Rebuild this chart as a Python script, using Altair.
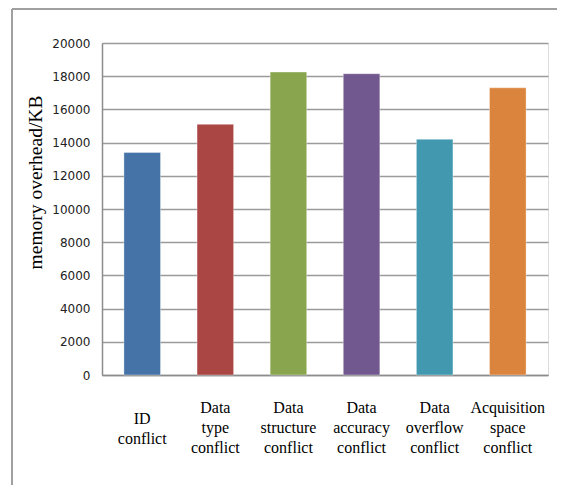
import altair as alt
import pandas as pd

categories = ["ID conflict", "Data type conflict", "Data structure conflict",
              "Data accuracy conflict", "Data overflow conflict", "Acquisition space conflict"]
values = [13400, 15100, 18250, 18150, 14200, 17300]
colors = ["#4572A7", "#AA4643", "#89A54E", "#71588F", "#4198AF", "#DB843D"]
y_ticks = [0, 2000, 4000, 6000, 8000, 10000, 12000, 14000, 16000, 18000, 20000]

df = pd.DataFrame({"category": categories, "value": values})

label_padding = {"condition": {"test": "length(split(datum.label, ' ')) == 2", "value": 43},
                 "value": 32}

bars = alt.Chart(df).mark_bar(stroke="#ffffff", strokeOpacity=0.35, strokeWidth=1).encode(
    x=alt.X("category:N", sort=categories,
            scale=alt.Scale(paddingInner=0.5, paddingOuter=0.3),
            axis=alt.Axis(title=None, labelAngle=0, labelExpr="split(datum.label, ' ')",
                          labelFont="Liberation Serif", labelFontSize=16, labelColor="#000000",
                          labelLineHeight=20, labelBaseline="middle", labelPadding=label_padding,
                          ticks=False, domainColor="#8c8c8c", domainWidth=1.5, grid=False)),
    y=alt.Y("value:Q", scale=alt.Scale(domain=[0, 20000], nice=False),
            axis=alt.Axis(title="memory overhead/KB", values=y_ticks, format="d",
                          labelFont="DejaVu Sans", labelFontSize=12, labelColor="#222222",
                          labelPadding=12, ticks=False, domainColor="#8c8c8c", domainWidth=1.5,
                          grid=True, gridColor="#9a9a9a", gridWidth=1.5,
                          titleFont="Liberation Serif", titleFontSize=19.5, titleFontWeight="normal",
                          titleColor="#000000", titleX=-67, titleY=139, titleAngle=-90,
                          titleAlign="center", titleBaseline="middle")),
    color=alt.Color("category:N", sort=categories,
                    scale=alt.Scale(domain=categories, range=colors), legend=None),
)

one = pd.DataFrame({"a": [0]})
frame_left = alt.Chart(one).mark_rule(color="#a0a0a0", strokeWidth=2).encode(
    x=alt.value(-90), y=alt.value(-34), y2=alt.value(460))
frame_top = alt.Chart(one).mark_rule(color="#a0a0a0", strokeWidth=2).encode(
    x=alt.value(-90), x2=alt.value(460), y=alt.value(-34))

chart = alt.layer(bars, frame_left, frame_top).properties(
    width=446, height=332,
    autosize=alt.AutoSizeParams(type="none"),
    padding={"left": 94, "top": 35, "right": 9, "bottom": 110},
).configure_view(stroke=None).configure(background="#ffffff")

chart.save("out.html", embed_options={"renderer": "svg", "actions": False})
